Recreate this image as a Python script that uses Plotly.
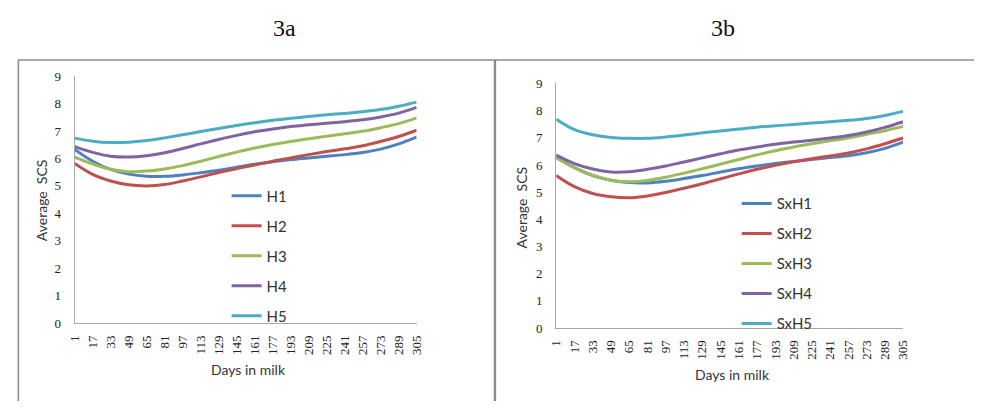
import plotly.graph_objects as go

# Days in milk at which the average SCS is read
days = [1, 17, 33, 49, 65, 81, 97, 113, 129, 145, 161, 177, 193, 209, 225, 241, 257, 273, 289, 305]

# Panel 3a
h_names = ["H1", "H2", "H3", "H4", "H5"]
h1 = [6.33, 5.90, 5.60, 5.43, 5.35, 5.35, 5.40, 5.48, 5.57, 5.68, 5.79, 5.88, 5.96, 6.02, 6.08, 6.14, 6.22, 6.34, 6.53, 6.78]
h2 = [5.82, 5.42, 5.18, 5.04, 5.00, 5.05, 5.18, 5.33, 5.49, 5.63, 5.76, 5.90, 6.02, 6.14, 6.25, 6.35, 6.46, 6.62, 6.80, 7.03]
h3 = [6.05, 5.80, 5.61, 5.52, 5.54, 5.62, 5.74, 5.90, 6.07, 6.23, 6.38, 6.51, 6.62, 6.72, 6.81, 6.90, 6.99, 7.12, 7.27, 7.48]
h4 = [6.43, 6.22, 6.08, 6.05, 6.10, 6.21, 6.36, 6.53, 6.69, 6.84, 6.97, 7.07, 7.16, 7.23, 7.28, 7.34, 7.41, 7.51, 7.65, 7.86]
h5 = [6.74, 6.63, 6.58, 6.59, 6.65, 6.75, 6.86, 6.98, 7.09, 7.20, 7.30, 7.39, 7.46, 7.53, 7.59, 7.64, 7.70, 7.78, 7.90, 8.05]

# Panel 3b
sxh_names = ["SxH1", "SxH2", "SxH3", "SxH4", "SxH5"]
sxh1 = [6.30, 5.90, 5.61, 5.44, 5.35, 5.34, 5.40, 5.50, 5.61, 5.74, 5.86, 5.96, 6.05, 6.13, 6.20, 6.27, 6.34, 6.45, 6.61, 6.84]
sxh2 = [5.61, 5.20, 4.95, 4.83, 4.79, 4.86, 4.99, 5.14, 5.31, 5.49, 5.67, 5.84, 5.99, 6.12, 6.23, 6.33, 6.44, 6.59, 6.78, 6.99]
sxh3 = [6.26, 5.90, 5.62, 5.44, 5.38, 5.43, 5.55, 5.70, 5.86, 6.03, 6.20, 6.37, 6.52, 6.66, 6.78, 6.89, 6.99, 7.13, 7.26, 7.42]
sxh4 = [6.36, 6.05, 5.85, 5.74, 5.75, 5.84, 5.96, 6.11, 6.26, 6.41, 6.55, 6.66, 6.76, 6.84, 6.91, 6.99, 7.08, 7.21, 7.38, 7.59]
sxh5 = [7.68, 7.30, 7.11, 7.01, 6.98, 6.98, 7.03, 7.10, 7.18, 7.25, 7.32, 7.39, 7.44, 7.49, 7.54, 7.59, 7.64, 7.71, 7.82, 7.97]

y_ticks = [0, 1, 2, 3, 4, 5, 6, 7, 8, 9]
panel_titles = ["3a", "3b"]
x_title = "Days in milk"
y_title = "Average  SCS"

colors = ["#4F81BD", "#C0504D", "#9BBB59", "#8064A2", "#4BACC6"]

W, H = 981, 409


def px(x):
    return x / W


def py(y):
    return 1 - y / H


fig = go.Figure()

for name, ys, c in zip(h_names, [h1, h2, h3, h4, h5], colors):
    fig.add_trace(go.Scatter(
        x=days, y=ys, name=name, mode="lines",
        line=dict(color=c, width=3, shape="spline", smoothing=1.0),
        xaxis="x", yaxis="y", legend="legend", legendgroup=name,
    ))

for name, ys, c in zip(sxh_names, [sxh1, sxh2, sxh3, sxh4, sxh5], colors):
    fig.add_trace(go.Scatter(
        x=days, y=ys, name=name, mode="lines",
        line=dict(color=c, width=3, shape="spline", smoothing=1.0),
        xaxis="x2", yaxis="y2", legend="legend2", legendgroup=name,
    ))

serif = "Times New Roman, Liberation Serif, serif"
tick_font = dict(family=serif, size=13, color="#222")
axis_common = dict(
    showgrid=False, zeroline=False, showline=True, linecolor="#A6A6A6",
    linewidth=1, ticks="", tickfont=tick_font,
)
legend_font = dict(family="Lato", size=15, color="#333")

fig.update_layout(
    width=W, height=H,
    margin=dict(l=0, r=0, t=0, b=0),
    paper_bgcolor="white", plot_bgcolor="white",
    xaxis=dict(domain=[px(67.7), px(415)], range=[1, 305], tickvals=days,
               tickangle=-90, anchor="y", ticklabelstandoff=6, **axis_common),
    yaxis=dict(domain=[py(328.3), py(71.7)], range=[0, 9], tickvals=y_ticks,
               anchor="x", ticklabelstandoff=10, **axis_common),
    xaxis2=dict(domain=[px(556.7), px(909)], range=[1, 305], tickvals=days,
                tickangle=-90, anchor="y2", ticklabelstandoff=6, **axis_common),
    yaxis2=dict(domain=[py(333.3), py(79.3)], range=[0, 9], tickvals=y_ticks,
                anchor="x2", ticklabelstandoff=10, **axis_common),
    legend=dict(x=px(222), y=py(179), xanchor="left", yanchor="top",
                bgcolor="rgba(0,0,0,0)", font=legend_font,
                itemwidth=30, tracegroupgap=7.5),
    legend2=dict(x=px(740), y=py(187), xanchor="left", yanchor="top",
                 bgcolor="rgba(0,0,0,0)", font=legend_font,
                 itemwidth=30, tracegroupgap=7.5),
    showlegend=True,
)

annotations = [
    dict(text=panel_titles[0], x=px(281), y=py(22)),
    dict(text=panel_titles[1], x=px(726), y=py(22)),
]
for a in annotations:
    a.update(xref="paper", yref="paper", showarrow=False, xanchor="center", yanchor="middle",
             font=dict(family=serif, size=24, color="#111"))

label_font = dict(family="Lato", size=14, color="#333")
annotations += [
    dict(text=y_title, x=px(34), y=py(200), textangle=-90, font=label_font),
    dict(text=y_title, x=px(521), y=py(208), textangle=-90, font=label_font),
    dict(text=x_title, x=px(244), y=py(376.7), font=label_font),
    dict(text=x_title, x=px(736), y=py(381.7), font=label_font),
]
for a in annotations[2:]:
    a.update(xref="paper", yref="paper", showarrow=False, xanchor="center", yanchor="middle")
fig.update_layout(annotations=annotations)

# Frames around the two panels
border = dict(color="#8C8C8C", width=1.6)
fig.update_layout(shapes=[
    dict(type="line", xref="paper", yref="paper", x0=px(10), x1=1, y0=py(55), y1=py(55), line=border),
    dict(type="line", xref="paper", yref="paper", x0=px(10.5), x1=px(10.5), y0=py(55), y1=0, line=border),
    dict(type="line", xref="paper", yref="paper", x0=px(494.5), x1=px(494.5), y0=py(55), y1=0,
         line=dict(color="#8C8C8C", width=2.4)),
])

fig.write_html("out.html")
